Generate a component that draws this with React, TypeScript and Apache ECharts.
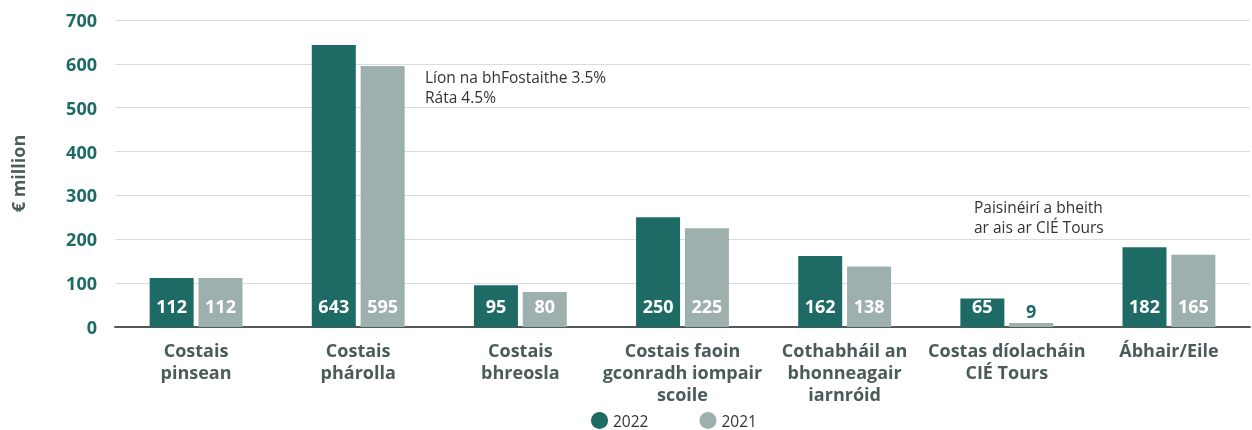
import React, { useEffect, useRef } from "react";
import * as echarts from "echarts";

const categories = [
  "Costais\npinsean",
  "Costais\nphárolla",
  "Costais\nbhreosla",
  "Costais faoin\ngconradh iompair\nscoile",
  "Cothabháil an\nbhonneagair\niarnróid",
  "Costas díolacháin\nCIÉ Tours",
  "Ábhair/Eile",
];
const values2022 = [112, 643, 95, 250, 162, 65, 182];
const values2021 = [112, 595, 80, 225, 138, 9, 165];
const seriesNames = ["2022", "2021"];
const annotation1 = ["Líon na bhFostaithe 3.5%", "Ráta 4.5%"];
const annotation2 = ["Paisinéirí a bheith", "ar ais ar CIÉ Tours"];

const DARK = "#1e6b66";
const GREY = "#9db0ae";
const FONT = "'Open Sans', sans-serif";

export default function App() {
  const ref = useRef<HTMLDivElement>(null);
  useEffect(() => {
    const chart = echarts.init(ref.current!, null, { renderer: "svg" });
    const insideLabel = {
      show: true,
      position: "insideBottom",
      distance: 12,
      color: "#fff",
      fontWeight: "bold",
      fontSize: 18,
      fontFamily: FONT,
    };
    const mk = (vals: number[]) =>
      vals.map((v) =>
        v < 20
          ? { value: v, label: { position: "top", distance: 3, color: DARK } }
          : v
      );
    const annot = (lines: string[], x: number, y0: number, step: number) =>
      lines.map((t, i) => ({
        type: "text",
        left: x,
        top: y0 + i * step,
        style: { text: t, fontSize: 15.5, fill: "#333", fontFamily: FONT },
      }));
    chart.setOption({
      animation: false,
      textStyle: { fontFamily: FONT },
      grid: { left: 115, right: 2, top: 20, bottom: 103, containLabel: false },
      legend: {
        top: 412,
        left: 591,
        icon: "circle",
        itemWidth: 17,
        itemHeight: 17,
        itemGap: 51,
        padding: 0,
        textStyle: { fontSize: 15.5, lineHeight: 17, color: "#333", fontFamily: FONT },
        data: seriesNames,
      },
      xAxis: {
        type: "category",
        data: categories,
        axisLine: { lineStyle: { color: "#4d5a58", width: 2 } },
        axisTick: { show: false },
        axisLabel: {
          interval: 0,
          color: "#4b5b59",
          fontWeight: "bold",
          fontSize: 18,
          lineHeight: 22,
          margin: 12,
          fontFamily: FONT,
        },
      },
      yAxis: {
        type: "value",
        min: 0,
        max: 700,
        interval: 100,
        name: "€ million",
        nameLocation: "middle",
        nameGap: 88,
        nameRotate: 90,
        nameTextStyle: { color: "#4b5b59", fontWeight: "bold", fontSize: 18, fontFamily: FONT },
        axisLabel: { color: DARK, fontWeight: "bold", fontSize: 18, margin: 18, fontFamily: FONT },
        splitLine: { lineStyle: { color: "#d9dddc", width: 1 } },
      },
      series: [
        {
          name: seriesNames[0],
          type: "bar",
          data: mk(values2022),
          itemStyle: { color: DARK },
          barWidth: 44,
          barGap: "11%",
          label: insideLabel,
        },
        {
          name: seriesNames[1],
          type: "bar",
          data: mk(values2021),
          itemStyle: { color: GREY },
          barWidth: 44,
          barGap: "11%",
          label: insideLabel,
        },
      ],
      graphic: [
        ...annot(annotation1, 425, 69, 20),
        ...annot(annotation2, 974, 199, 20),
      ],
    });
    return () => chart.dispose();
  }, []);
  return (
    <div
      ref={ref}
      style={{ position: "fixed", left: 0, top: 0, width: 1252, height: 430 }}
    />
  );
}
